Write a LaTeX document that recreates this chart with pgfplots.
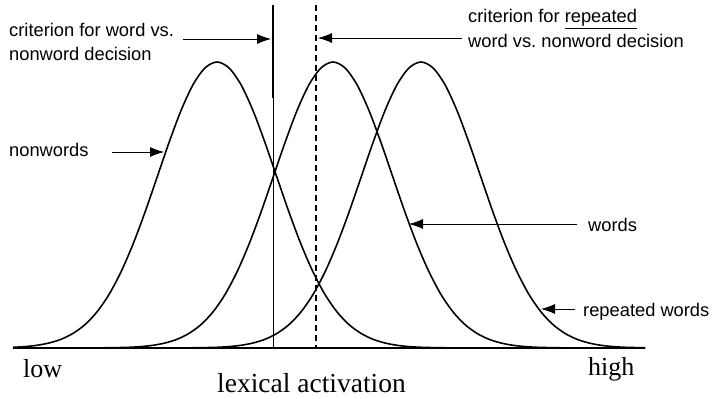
\documentclass[border=0pt]{standalone}
\usepackage{pgfplots}
\pgfplotsset{compat=1.18}
\usepackage{fontspec}
\setmainfont{Liberation Serif}
\newfontfamily\labelfont{Liberation Sans}
\usetikzlibrary{arrows.meta}

\tikzset{
  lbl/.style={anchor=base west, inner sep=0pt, font=\labelfont\fontsize{18.3bp}{21bp}\selectfont},
  big/.style={anchor=base west, inner sep=0pt, font=\fontsize{26bp}{30bp}\selectfont},
  pointer/.style={line width=0.8pt, -{Latex[length=14bp,width=10bp]}},
}

\begin{document}
\begin{tikzpicture}
\begin{axis}[
    hide axis,
    scale only axis,
    width=715bp, height=399bp,
    xmin=0, xmax=715, ymin=0, ymax=399,
    clip=false,
]
\path (axis cs:0,0) rectangle (axis cs:715,399);

% nonwords
\addplot[black, line width=1.6pt, smooth] coordinates {
  (13,51.7) (25,52.4) (37,53.7) (49,56.0) (61,59.7) (73,65.6) (85,74.4) (97,87.1)
  (109,104.5) (121,127.1) (133,154.8) (145,186.8) (157,221.5) (169,256.4) (181,288.4)
  (193,314.3) (205,331.1) (217,337) (229,331.1) (241,314.3) (253,288.4) (265,256.4)
  (277,221.5) (289,186.8) (301,154.8) (313,127.1) (325,104.5) (337,87.1) (349,74.4)
  (361,65.6) (373,59.7) (385,56.0) (397,53.7) (409,52.4) (421,51.7) (433,51.4)
  (445,51.2) (457,51) (645,51)
};
% words
\addplot[black, line width=1.6pt, smooth] coordinates {
  (13,51) (93,51) (105,51.2) (117,51.4) (129,51.7) (141,52.4) (153,53.7) (165,56.0)
  (177,59.7) (189,65.6) (201,74.4) (213,87.1) (225,104.5) (237,127.1) (249,154.8)
  (261,186.8) (273,221.5) (285,256.4) (297,288.4) (309,314.3) (321,331.1) (333,337)
  (345,331.1) (357,314.3) (369,288.4) (381,256.4) (393,221.5) (405,186.8) (417,154.8)
  (429,127.1) (441,104.5) (453,87.1) (465,74.4) (477,65.6) (489,59.7) (501,56.0)
  (513,53.7) (525,52.4) (537,51.7) (549,51.4) (561,51.2) (573,51) (645,51)
};
% repeated words
\addplot[black, line width=1.6pt, smooth] coordinates {
  (13,51) (181,51) (193,51.2) (205,51.4) (217,51.7) (229,52.4) (241,53.7) (253,56.0)
  (265,59.7) (277,65.6) (289,74.4) (301,87.1) (313,104.5) (325,127.1) (337,154.8)
  (349,186.8) (361,221.5) (373,256.4) (385,288.4) (397,314.3) (409,331.1) (421,337)
  (433,331.1) (445,314.3) (457,288.4) (469,256.4) (481,221.5) (493,186.8) (505,154.8)
  (517,127.1) (529,104.5) (541,87.1) (553,74.4) (565,65.6) (577,59.7) (589,56.0)
  (601,53.7) (613,52.4) (625,51.7) (637,51.4) (645,51.3)
};
% baseline
\addplot[black, line width=1.6pt] coordinates {(13,51) (645,51)};
% criterion lines
\addplot[black, line width=1.8pt] coordinates {(273,394) (273,301)};
\addplot[black, line width=0.9pt] coordinates {(273,301) (273,51)};
\addplot[black, line width=1.6pt, dash pattern=on 6bp off 4bp] coordinates {(316,394) (316,51)};

% arrows
\draw[pointer] (axis cs:183,360) -- (axis cs:271,360);
\draw[pointer] (axis cs:462,361) -- (axis cs:318,361);
\draw[pointer] (axis cs:112,247) -- (axis cs:164,247);
\draw[pointer] (axis cs:577,175) -- (axis cs:409,175);
\draw[pointer] (axis cs:575,90) -- (axis cs:541,90);

% labels
\node[lbl] at (axis cs:9,362) {criterion for word vs.};
\node[lbl] at (axis cs:9,338) {nonword decision};
\node[lbl] at (axis cs:468,376) {criterion for \underline{repeated}};
\node[lbl] at (axis cs:468,351) {word vs.\ nonword decision};
\node[lbl] at (axis cs:9,242) {nonwords};
\node[lbl] at (axis cs:588,167) {words};
\node[lbl] at (axis cs:583,82) {repeated words};
\node[big] at (axis cs:23,22) {low};
\node[big] at (axis cs:588,24) {high};
\node[big, font=\fontsize{27.5bp}{32bp}\selectfont] at (axis cs:217,7) {lexical activation};
\end{axis}
\end{tikzpicture}
\end{document}
